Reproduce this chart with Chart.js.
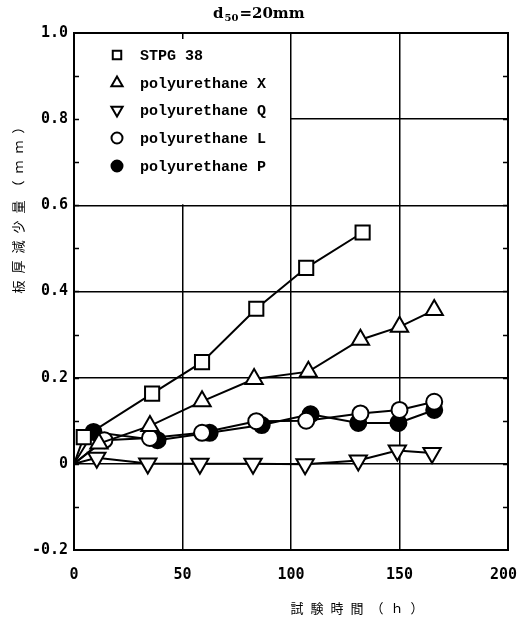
<!DOCTYPE html>
<html>
<head>
<meta charset="utf-8">
<script src="https://cdn.jsdelivr.net/npm/chart.js@4"></script>
<style>
  body { margin: 0; background: #fff; }
  canvas { display: block; }
</style>
</head>
<body>
<canvas id="myChart" width="517" height="630"></canvas>
<script>
// test time (h) and thickness loss (mm) for each material
var hoursStpg = [0, 4.5, 36, 59, 84, 107, 133];
var lossStpg = [0, 0.062, 0.163, 0.236, 0.36, 0.455, 0.537];

var hoursX = [0, 11.5, 35, 59, 83, 108, 132, 150, 166];
var lossX = [0, 0.047, 0.088, 0.145, 0.197, 0.214, 0.288, 0.318, 0.357];

var hoursQ = [0, 10.5, 34, 58, 82.5, 106.5, 131, 149, 165];
var lossQ = [0, 0.014, 0.001, 0, 0, -0.001, 0.008, 0.031, 0.025];

var hoursL = [0, 14, 35, 59, 84, 107, 132, 150, 166];
var lossL = [0, 0.055, 0.06, 0.072, 0.099, 0.1, 0.117, 0.125, 0.144];

var hoursP = [0, 9, 38.5, 62.5, 86.5, 109, 131, 149.5, 166];
var lossP = [0, 0.074, 0.055, 0.072, 0.09, 0.115, 0.095, 0.095, 0.125];

var seriesNames = ["STPG 38", "polyurethane X", "polyurethane Q", "polyurethane L", "polyurethane P"];
var xTicks = [0, 50, 100, 150, 200];
var yTickLabels = { "10": "1.0", "8": "0.8", "6": "0.6", "4": "0.4", "2": "0.2", "0": "0", "-2": "-0.2" };

var chartTitle = ["d", "50", "=20mm"];
var yTitle = "板厚減少量（ｍｍ）";
var xTitle = "試験時間（ｈ）";

function toPoints(xs, ys) {
  var pts = [];
  for (var i = 0; i < xs.length; i++) {
    pts.push({ x: xs[i], y: ys[i] });
  }
  return pts;
}

// the first point of every series is the origin, drawn without a marker
function markerSize(size) {
  return function (ctx) {
    return ctx.dataIndex === 0 ? 0 : size;
  };
}

function series(name, pts, style, size, fill, rotation) {
  return {
    label: name,
    data: pts,
    borderColor: "#000",
    borderWidth: 2,
    pointStyle: style,
    pointRotation: rotation || 0,
    pointRadius: markerSize(size),
    pointBorderWidth: 2,
    pointBorderColor: "#000",
    pointBackgroundColor: fill,
    tension: 0,
    fill: false,
  };
}

var decorations = {
  id: "decorations",
  beforeDatasetsDraw: function (chart) {
    var ctx = chart.ctx;
    var area = chart.chartArea;
    var xs = chart.scales.x;
    var ys = chart.scales.y;

    // blank box for the key in the upper left
    ctx.save();
    ctx.fillStyle = "#fff";
    ctx.fillRect(area.left + 1, area.top + 6, xs.getPixelForValue(100) - area.left - 2, ys.getPixelForValue(0.6) - area.top - 7);

    var rowY = [55, 83, 110, 138, 166];
    var keySizes = [6, 6.5, 6.5, 5.5, 5.5];
    ctx.font = "bold 15px 'Liberation Mono', monospace";
    ctx.textBaseline = "middle";
    ctx.textAlign = "left";
    chart.data.datasets.forEach(function (ds, i) {
      ctx.fillStyle = ds.pointBackgroundColor;
      ctx.strokeStyle = "#000";
      ctx.lineWidth = 2;
      Chart.helpers.drawPoint(ctx, {
        pointStyle: ds.pointStyle,
        rotation: ds.pointRotation,
        radius: keySizes[i],
        borderWidth: 2,
      }, 117, rowY[i]);
      ctx.fillStyle = "#000";
      ctx.fillText(ds.label, 140, rowY[i] + 1);
    });
    ctx.restore();
  },
  afterDraw: function (chart) {
    var ctx = chart.ctx;
    var area = chart.chartArea;
    var ys = chart.scales.y;

    ctx.save();
    ctx.strokeStyle = "#000";
    ctx.lineWidth = 2;
    ctx.strokeRect(area.left, area.top, area.right - area.left, area.bottom - area.top);

    // short inward ticks every 0.1 on both sides
    ctx.lineWidth = 1.5;
    for (var k = -1; k <= 9; k++) {
      var py = Math.round(ys.getPixelForValue(k / 10)) + 0.5;
      ctx.beginPath();
      ctx.moveTo(area.left, py);
      ctx.lineTo(area.left + 5, py);
      ctx.moveTo(area.right, py);
      ctx.lineTo(area.right - 5, py);
      ctx.stroke();
    }

    ctx.fillStyle = "#000";
    ctx.textBaseline = "middle";

    // title with subscript
    ctx.font = "bold 15px 'DejaVu Serif', serif";
    ctx.textAlign = "left";
    var tx = 213;
    ctx.fillText(chartTitle[0], tx, 14);
    tx += ctx.measureText(chartTitle[0]).width + 1;
    ctx.font = "bold 10px 'DejaVu Serif', serif";
    ctx.fillText(chartTitle[1], tx, 18);
    tx += ctx.measureText(chartTitle[1]).width + 1;
    ctx.font = "bold 15px 'DejaVu Serif', serif";
    ctx.fillText(chartTitle[2], tx, 14);

    ctx.font = "13px 'Noto Sans CJK JP', sans-serif";
    ctx.textAlign = "center";
    var chars = Array.from(yTitle);
    for (var i = 0; i < chars.length; i++) {
      ctx.save();
      ctx.translate(18, 287 - i * 20);
      ctx.rotate(-Math.PI / 2);
      ctx.fillText(chars[i], 0, 0);
      ctx.restore();
    }
    var xchars = Array.from(xTitle);
    for (var j = 0; j < xchars.length; j++) {
      ctx.fillText(xchars[j], 297 + j * 20, 608);
    }
    ctx.restore();
  },
};

new Chart("myChart", {
  type: "line",
  data: {
    datasets: [
      series(seriesNames[0], toPoints(hoursStpg, lossStpg), "rect", 10, "#fff"),
      series(seriesNames[1], toPoints(hoursX, lossX), "triangle", 10, "#fff"),
      series(seriesNames[2], toPoints(hoursQ, lossQ), "triangle", 10, "#fff", 180),
      series(seriesNames[3], toPoints(hoursL, lossL), "circle", 8, "#fff"),
      series(seriesNames[4], toPoints(hoursP, lossP), "circle", 8, "#000"),
    ],
  },
  options: {
    responsive: false,
    animation: false,
    devicePixelRatio: 1,
    layout: { autoPadding: false, padding: { left: 0, right: 9, top: 33, bottom: 0 } },
    plugins: {
      legend: { display: false },
      title: { display: false },
      tooltip: { enabled: false },
    },
    scales: {
      x: {
        type: "linear",
        min: 0,
        max: 200,
        afterFit: function (s) {
          s.height = 80;
          s.paddingLeft = 0;
          s.paddingRight = 0;
        },
        afterBuildTicks: function (s) {
          s.ticks = xTicks.map(function (v) { return { value: v }; });
        },
        grid: { color: "#000", lineWidth: 1.5, drawTicks: false },
        border: { color: "#000", width: 2 },
        ticks: {
          padding: 16,
          color: "#000",
          maxRotation: 0,
          font: { family: "'DejaVu Sans Mono', monospace", size: 15, weight: "bold" },
          // trailing space keeps the last label inside the canvas edge
          callback: function (v) {
            return v === 200 ? "200 " : String(v);
          },
        },
      },
      y: {
        type: "linear",
        min: -0.2,
        max: 1.0,
        afterFit: function (s) {
          s.width = 74;
          s.paddingTop = 0;
          s.paddingBottom = 0;
        },
        afterBuildTicks: function (s) {
          var t = [];
          for (var k = 10; k >= -2; k -= 2) t.push({ value: k / 10 });
          s.ticks = t;
        },
        grid: { color: "#000", lineWidth: 1.5, drawTicks: false },
        border: { color: "#000", width: 2 },
        ticks: {
          padding: 6,
          color: "#000",
          font: { family: "'DejaVu Sans Mono', monospace", size: 15, weight: "bold" },
          callback: function (v) {
            return yTickLabels[String(Math.round(v * 10))];
          },
        },
      },
    },
  },
  plugins: [decorations],
});
</script>
</body>
</html>
